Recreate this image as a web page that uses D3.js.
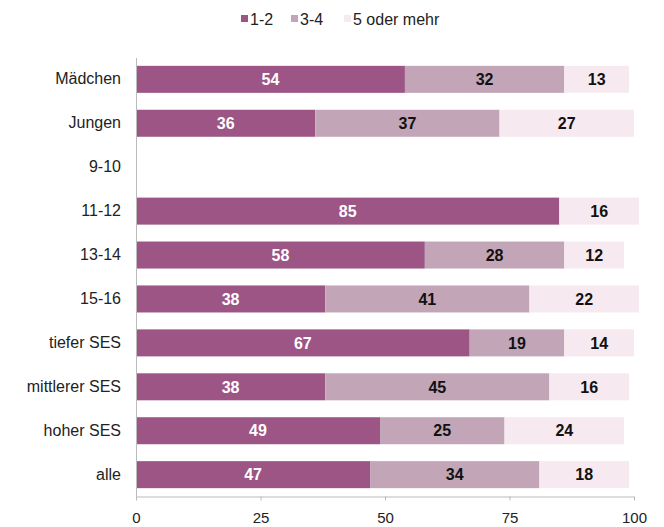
<!DOCTYPE html>
<html>
<head>
<meta charset="utf-8">
<script src="https://cdn.jsdelivr.net/npm/d3@7"></script>
<style>
  body { margin: 0; background: #fff; }
  svg { font-family: "Liberation Sans", Arial, sans-serif; }
</style>
</head>
<body>
<svg id="chart" width="664" height="527"></svg>
<script>
const categories = ["Mädchen", "Jungen", "9-10", "11-12", "13-14", "15-16",
  "tiefer SES", "mittlerer SES", "hoher SES", "alle"];
const seriesNames = ["1-2", "3-4", "5 oder mehr"];
const s12 = [54, 36, null, 85, 58, 38, 67, 38, 49, 47];
const s34 = [32, 37, null, null, 28, 41, 19, 45, 25, 34];
const s5 = [13, 27, null, 16, 12, 22, 14, 16, 24, 18];
const xTicks = [0, 25, 50, 75, 100];

const colors = ["#9c5585", "#c2a6b8", "#f6e9f0"];
const labelColors = ["#ffffff", "#111111", "#111111"];

const svg = d3.select("#chart");
const x = d3.scaleLinear().domain([0, 100]).range([136, 634]);
const y = d3.scaleBand().domain(categories).range([57.5, 496.5]).paddingInner(0.385).paddingOuter(0.19);

const rows = categories.map((c, i) => ({ cat: c, vals: [s12[i], s34[i], s5[i]] }));

rows.forEach(r => {
  let acc = 0;
  r.vals.forEach((v, k) => {
    if (v == null) return;
    const x0 = acc, x1 = acc + v;
    acc = x1;
    svg.append("rect")
      .attr("x", x(x0))
      .attr("y", y(r.cat))
      .attr("width", x(x1) - x(x0))
      .attr("height", y.bandwidth())
      .attr("fill", colors[k]);
    svg.append("text")
      .attr("x", (x(x0) + x(x1)) / 2)
      .attr("y", y(r.cat) + y.bandwidth() / 2)
      .attr("dy", "0.36em")
      .attr("text-anchor", "middle")
      .attr("font-size", 16)
      .attr("font-weight", "bold")
      .attr("fill", labelColors[k])
      .text(v);
  });
});

// y axis
const yAxis = svg.append("g")
  .attr("transform", `translate(${x(0)},0)`)
  .call(d3.axisLeft(y).tickSize(0).tickPadding(15));
yAxis.select(".domain").attr("stroke", "#bbb");
yAxis.selectAll("text").attr("font-size", 16).attr("fill", "#222")
  .attr("font-family", "Liberation Sans, Arial, sans-serif");

// x axis
const xAxis = svg.append("g")
  .attr("transform", "translate(0,496.5)")
  .call(d3.axisBottom(x).tickValues(xTicks).tickSize(4).tickSizeOuter(0).tickPadding(12));
xAxis.select(".domain").attr("stroke", "#bbb");
xAxis.selectAll(".tick line").attr("stroke", "#bbb");
xAxis.selectAll("text").attr("font-size", 15).attr("fill", "#222")
  .attr("font-family", "Liberation Sans, Arial, sans-serif");

// legend
const legendX = [241, 291, 344];
const legend = svg.append("g");
seriesNames.forEach((n, k) => {
  legend.append("rect")
    .attr("x", legendX[k]).attr("y", 15)
    .attr("width", 7).attr("height", 7)
    .attr("fill", colors[k]);
  legend.append("text")
    .attr("x", legendX[k] + 9).attr("y", 19)
    .attr("dy", "0.36em")
    .attr("font-size", 16)
    .attr("fill", "#222")
    .text(n);
});
</script>
</body>
</html>
